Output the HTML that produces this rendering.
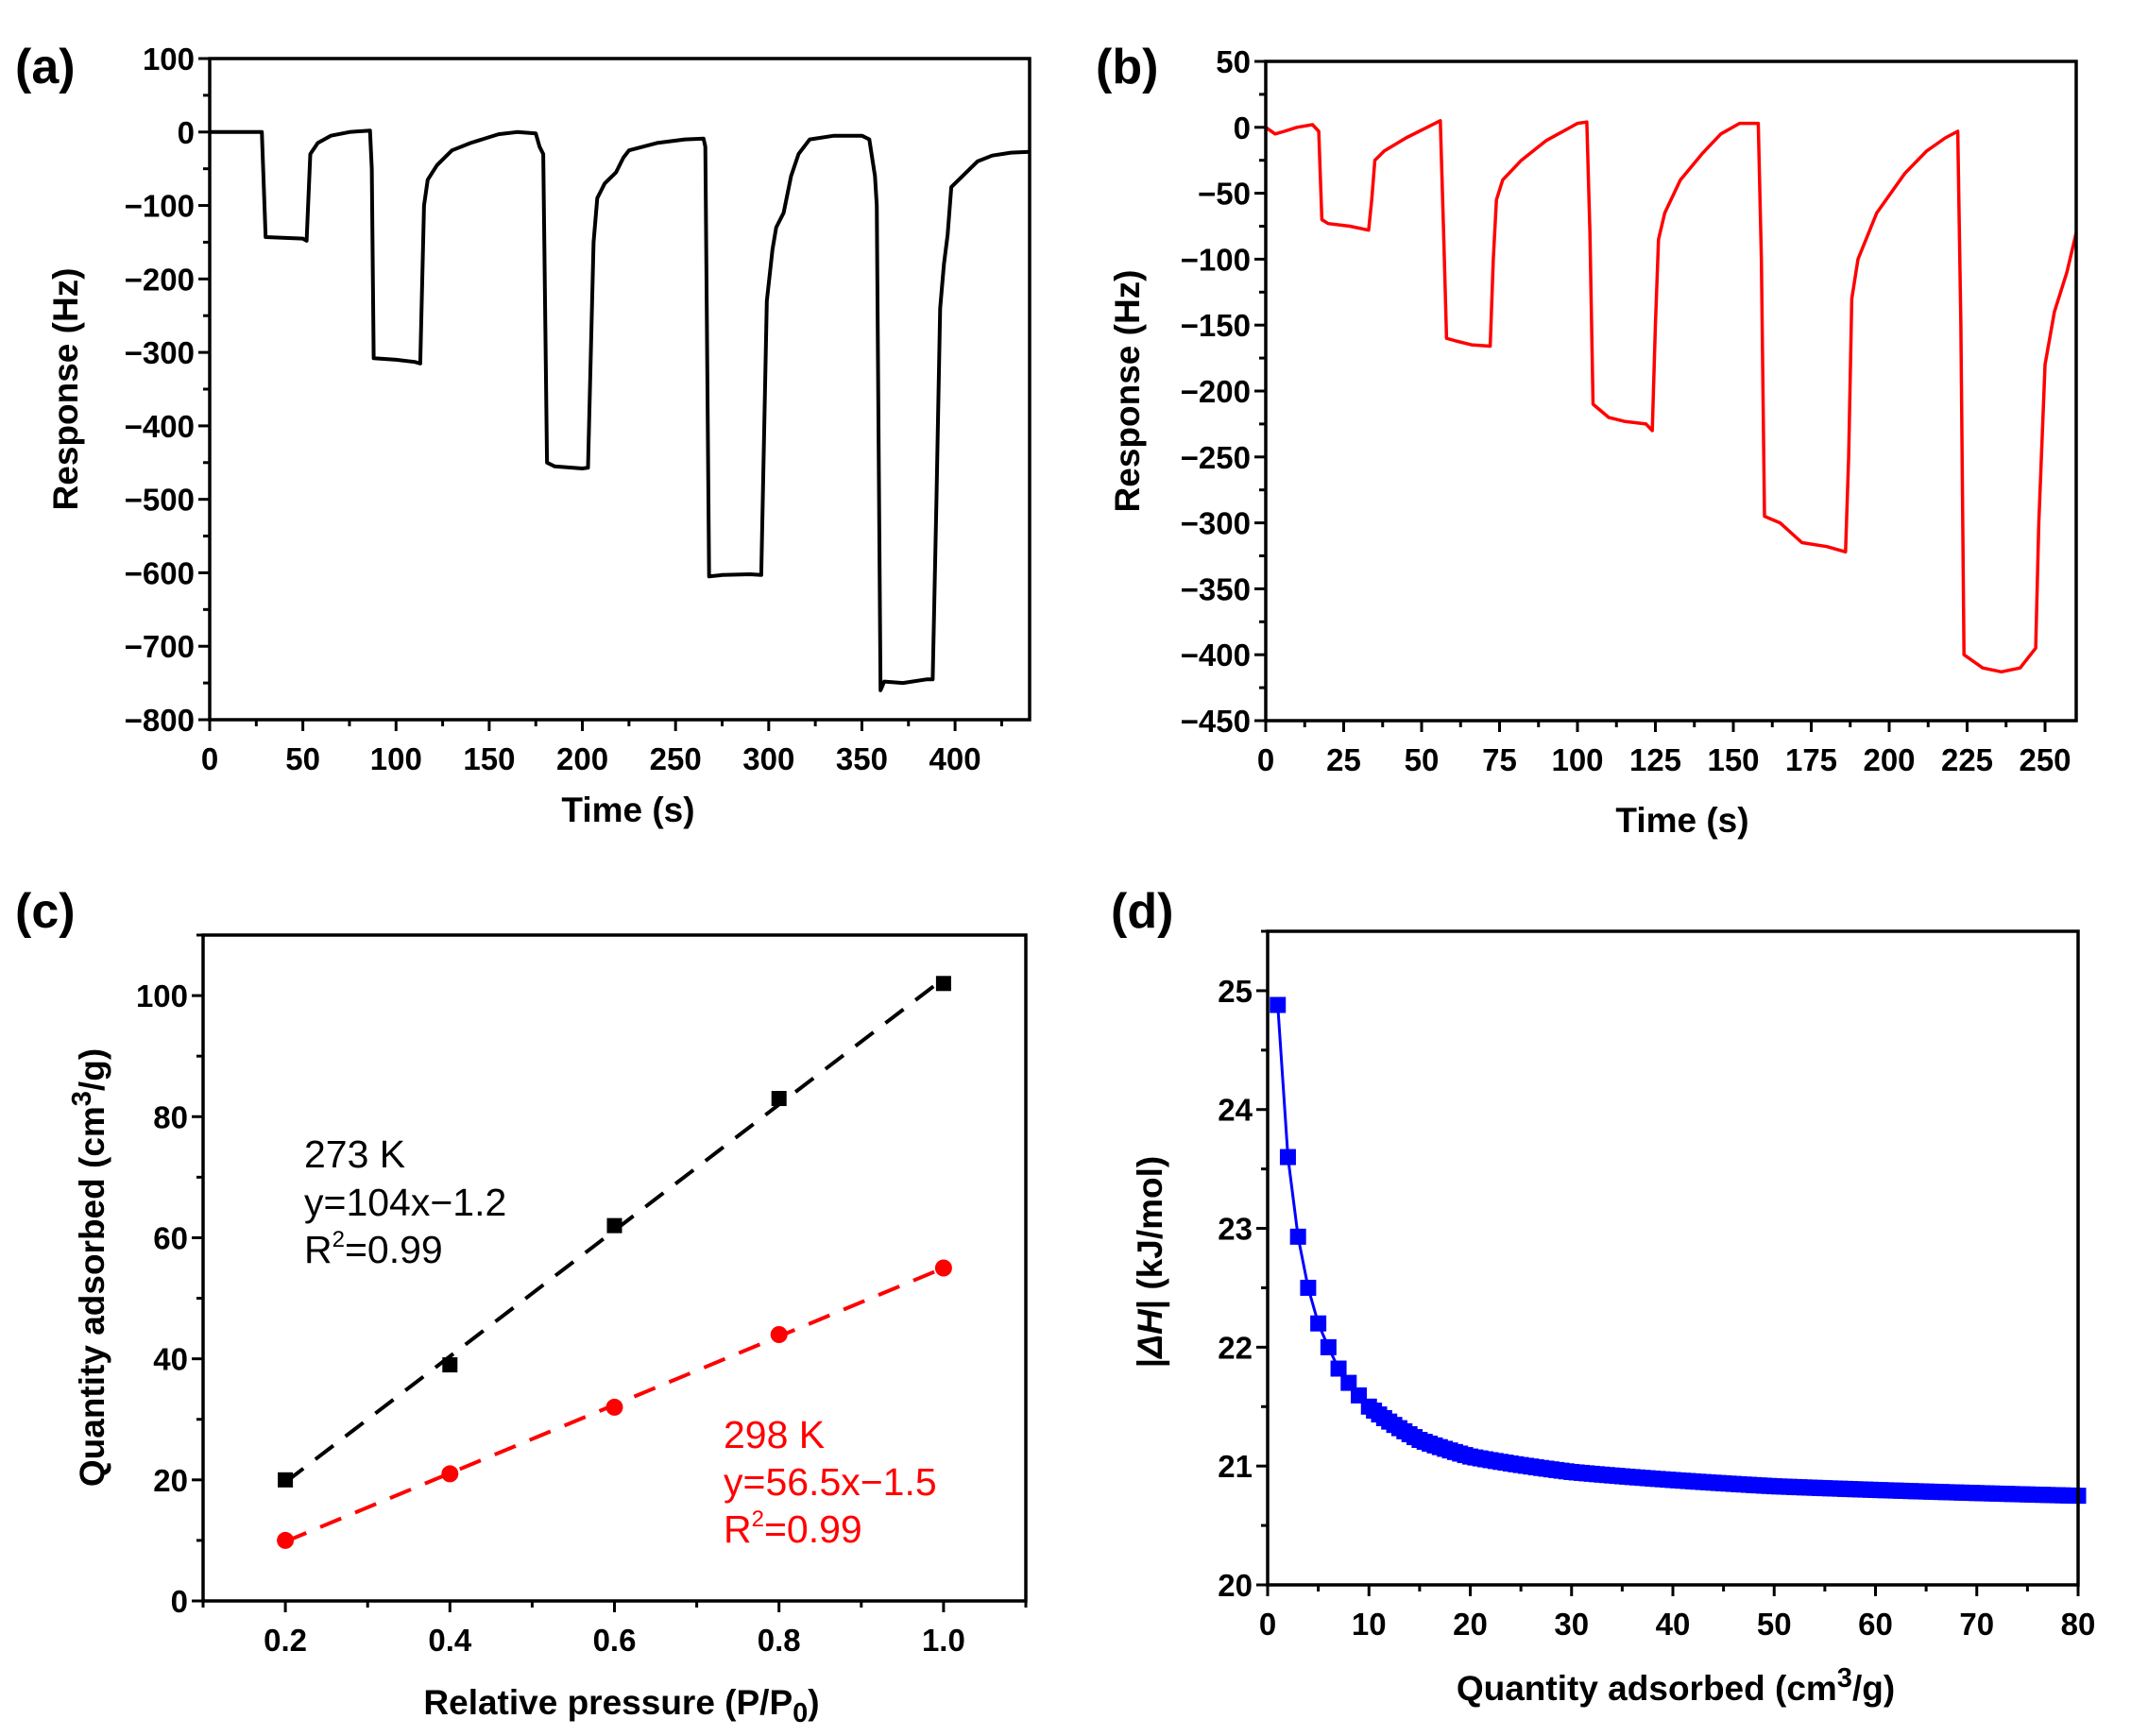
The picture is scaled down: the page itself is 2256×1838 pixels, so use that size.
<!DOCTYPE html>
<html><head><meta charset="utf-8"><style>
html,body{margin:0;padding:0;background:#fff;}
svg{display:block;font-family:"Liberation Sans",Arial,sans-serif;}
</style></head><body>
<svg id="s" width="2256" height="1838" viewBox="0 0 2256 1838" xmlns="http://www.w3.org/2000/svg"></svg>
<script>
const S=document.getElementById('s');let out='';
function panel(o){
 const {L,R,T,B,x0,x1,y0,y1}=o;
 const X=v=>L+(v-x0)/(x1-x0)*(R-L), Y=v=>B-(v-y0)/(y1-y0)*(B-T);
 o.X=X;o.Y=Y;
 let g='';
 for(let v=x0;v<=x1+1e-9;v+=o.xmin){const maj=Math.abs(Math.round((v-o.xs)/o.xmaj)*o.xmaj+o.xs-v)<1e-6;
  g+=`<line x1="${X(v)}" y1="${B}" x2="${X(v)}" y2="${B+(maj?12:7)}" stroke="#000" stroke-width="3"/>`;}
 for(let v=y0;v<=y1+1e-9;v+=o.ymin){const maj=Math.abs(Math.round((v-o.ys)/o.ymaj)*o.ymaj+o.ys-v)<1e-6;
  g+=`<line x1="${L}" y1="${Y(v)}" x2="${L-(maj?12:7)}" y2="${Y(v)}" stroke="#000" stroke-width="3"/>`;}
 for(const [v,t] of o.xl) g+=`<text x="${X(v)}" y="${B+53}" font-size="33" font-weight="bold" text-anchor="middle">${t}</text>`;
 for(const [v,t] of o.yl) g+=`<text x="${L-16}" y="${Y(v)+12}" font-size="33" font-weight="bold" text-anchor="end">${t}</text>`;
 return g;
}
function frame(o){return `<rect x="${o.L}" y="${o.T}" width="${o.R-o.L}" height="${o.B-o.T}" fill="none" stroke="#000" stroke-width="3.5"/>`;}
function poly(o,pts,col,w){return `<polyline fill="none" stroke="${col}" stroke-width="${w}" stroke-linejoin="round" points="${pts.map(p=>o.X(p[0]).toFixed(1)+','+o.Y(p[1]).toFixed(1)).join(' ')}"/>`;}
const M='−';
let a={L:222,R:1090,T:62,B:762,x0:0,x1:440,y0:-800,y1:100,xmin:25,xmaj:50,xs:0,ymin:50,ymaj:100,ys:0,
 xl:[0,50,100,150,200,250,300,350,400].map(v=>[v,v]),yl:[100,0,-100,-200,-300,-400,-500,-600,-700,-800].map(v=>[v,v<0?M+(-v):v])};
out+=panel(a);
out+=poly(a,[[0,0],[28,0],[30,-143],[50,-145],[52,-148],[54,-30],[58,-15],[65,-5],[75,0],[86,2],[87,-50],[88,-308],[100,-310],[110,-313],[113,-315],[115,-100],[117,-65],[122,-45],[130,-25],[140,-15],[155,-3],[165,0],[175,-2],[177,-20],[179,-30],[181,-450],[185,-455],[200,-458],[203,-457],[206,-150],[208,-90],[212,-70],[218,-55],[222,-35],[225,-25],[240,-15],[255,-10],[265,-9],[266,-20],[268,-605],[275,-603],[290,-602],[296,-603],[299,-230],[302,-160],[304,-130],[308,-110],[312,-60],[316,-30],[322,-10],[335,-5],[350,-5],[354,-10],[357,-60],[358,-100],[360,-760],[362,-748],[372,-750],[385,-745],[388,-745],[390,-500],[392,-240],[394,-180],[396,-140],[398,-75],[402,-65],[408,-50],[412,-40],[420,-32],[430,-28],[440,-27]],'#000',4);
out+=frame(a);
out+=`<text x="16" y="88" font-size="52" font-weight="bold">(a)</text>`;
out+=`<text x="665" y="870" font-size="37" font-weight="bold" text-anchor="middle">Time (s)</text>`;
out+=`<text transform="translate(82,412) rotate(-90)" font-size="37" font-weight="bold" text-anchor="middle">Response (Hz)</text>`;
let b={L:1340,R:2198,T:65,B:763,x0:0,x1:260,y0:-450,y1:50,xmin:12.5,xmaj:25,xs:0,ymin:25,ymaj:50,ys:0,
 xl:[0,25,50,75,100,125,150,175,200,225,250].map(v=>[v,v]),yl:[50,0,-50,-100,-150,-200,-250,-300,-350,-400,-450].map(v=>[v,v<0?M+(-v):v])};
out+=panel(b);
out+=poly(b,[[0,0],[3,-5],[6,-3],[10,0],[15,2],[17,-3],[18,-70],[20,-73],[27,-75],[33,-78],[34,-55],[35,-25],[38,-18],[45,-8],[56,5],[57,-75],[58,-160],[61,-162],[66,-165],[72,-166],[73,-100],[74,-55],[76,-40],[82,-25],[90,-10],[100,3],[103,4],[104,-80],[105,-210],[110,-220],[115,-223],[122,-225],[124,-230],[125,-150],[126,-85],[128,-65],[133,-40],[140,-20],[146,-5],[152,3],[158,3],[159,-100],[160,-295],[165,-300],[172,-315],[180,-318],[186,-322],[187,-250],[188,-130],[190,-100],[196,-65],[205,-35],[212,-18],[218,-8],[222,-3],[223,-150],[224,-400],[230,-410],[236,-413],[242,-410],[247,-395],[248,-300],[250,-180],[253,-140],[257,-110],[260,-80]],'#f00',3.5);
out+=frame(b);
out+=`<text x="1160" y="88" font-size="52" font-weight="bold">(b)</text>`;
out+=`<text x="1781" y="881" font-size="37" font-weight="bold" text-anchor="middle">Time (s)</text>`;
out+=`<text transform="translate(1206,414) rotate(-90)" font-size="37" font-weight="bold" text-anchor="middle">Response (Hz)</text>`;
let c={L:215,R:1086,T:990,B:1695,x0:0.1,x1:1.1,y0:0,y1:110,xmin:0.1,xmaj:0.2,xs:0.2,ymin:10,ymaj:20,ys:0,
 xl:[[0.2,'0.2'],[0.4,'0.4'],[0.6,'0.6'],[0.8,'0.8'],[1.0,'1.0']],yl:[0,20,40,60,80,100].map(v=>[v,v])};
out+=panel(c);
out+=`<line x1="${c.X(0.2)}" y1="${c.Y(19.6)}" x2="${c.X(1.0)}" y2="${c.Y(102.8)}" stroke="#000" stroke-width="4" stroke-dasharray="24,16"/>`;
out+=`<line x1="${c.X(0.2)}" y1="${c.Y(9.8)}" x2="${c.X(1.0)}" y2="${c.Y(55)}" stroke="#f00" stroke-width="4" stroke-dasharray="24,16"/>`;
[[0.2,20],[0.4,39],[0.6,62],[0.8,83],[1.0,102]].forEach(p=>out+=`<rect x="${c.X(p[0])-8}" y="${c.Y(p[1])-8}" width="16" height="16" fill="#000"/>`);
[[0.2,10],[0.4,21],[0.6,32],[0.8,44],[1.0,55]].forEach(p=>out+=`<circle cx="${c.X(p[0])}" cy="${c.Y(p[1])}" r="9" fill="#f00"/>`);
out+=frame(c);
out+=`<text x="16" y="982" font-size="52" font-weight="bold">(c)</text>`;
out+=`<g font-size="41"><text x="322" y="1236">273 K</text><text x="322" y="1287">y=104x−1.2</text><text x="322" y="1337">R<tspan font-size="24" dy="-17">2</tspan><tspan dy="17">=0.99</tspan></text>
<g fill="#f00"><text x="766" y="1533">298 K</text><text x="766" y="1583">y=56.5x−1.5</text><text x="766" y="1633">R<tspan font-size="24" dy="-17">2</tspan><tspan dy="17">=0.99</tspan></text></g></g>`;
out+=`<text x="658" y="1815" font-size="37" font-weight="bold" text-anchor="middle">Relative pressure (P/P<tspan font-size="29" dy="8">0</tspan><tspan dy="-8">)</tspan></text>`;
out+=`<text transform="translate(110,1342) rotate(-90)" font-size="37" font-weight="bold" text-anchor="middle">Quantity adsorbed (cm<tspan font-size="29" dy="-14">3</tspan><tspan dy="14">/g)</tspan></text>`;
let d={L:1342,R:2200,T:986,B:1678,x0:0,x1:80,y0:20,y1:25.5,xmin:5,xmaj:10,xs:0,ymin:0.5,ymaj:1,ys:20,
 xl:[0,10,20,30,40,50,60,70,80].map(v=>[v,v]),yl:[20,21,22,23,24,25].map(v=>[v,v])};
out+=panel(d);
const kp=[[1,24.88],[2,23.6],[3,22.93],[4,22.5],[5,22.2],[6,22.0],[7,21.82],[8,21.7],[10,21.5],[15,21.22],[20,21.08],[30,20.95],[50,20.83],[80,20.75]];
function f(x){for(let i=0;i<kp.length-1;i++){if(x<=kp[i+1][0]){const t=(Math.log(x)-Math.log(kp[i][0]))/(Math.log(kp[i+1][0])-Math.log(kp[i][0]));return kp[i][1]+t*(kp[i+1][1]-kp[i][1]);}}return kp[kp.length-1][1];}
let dp=[];for(let x=1;x<=80;x+=(x<10?1:0.5))dp.push([x,f(x)]);
out+=poly(d,dp,'#00f',3);
dp.forEach(p=>out+=`<rect x="${d.X(p[0])-8.5}" y="${d.Y(p[1])-8.5}" width="17" height="17" fill="#00f"/>`);
out+=frame(d);
out+=`<text x="1176" y="982" font-size="52" font-weight="bold">(d)</text>`;
out+=`<text x="1774" y="1800" font-size="37" font-weight="bold" text-anchor="middle">Quantity adsorbed (cm<tspan font-size="29" dy="-14">3</tspan><tspan dy="14">/g)</tspan></text>`;
out+=`<text transform="translate(1230,1336) rotate(-90)" font-size="37" font-weight="bold" text-anchor="middle">|<tspan font-style="italic">ΔH</tspan>| (kJ/mol)</text>`;
S.innerHTML=out;
</script>
</body></html>
